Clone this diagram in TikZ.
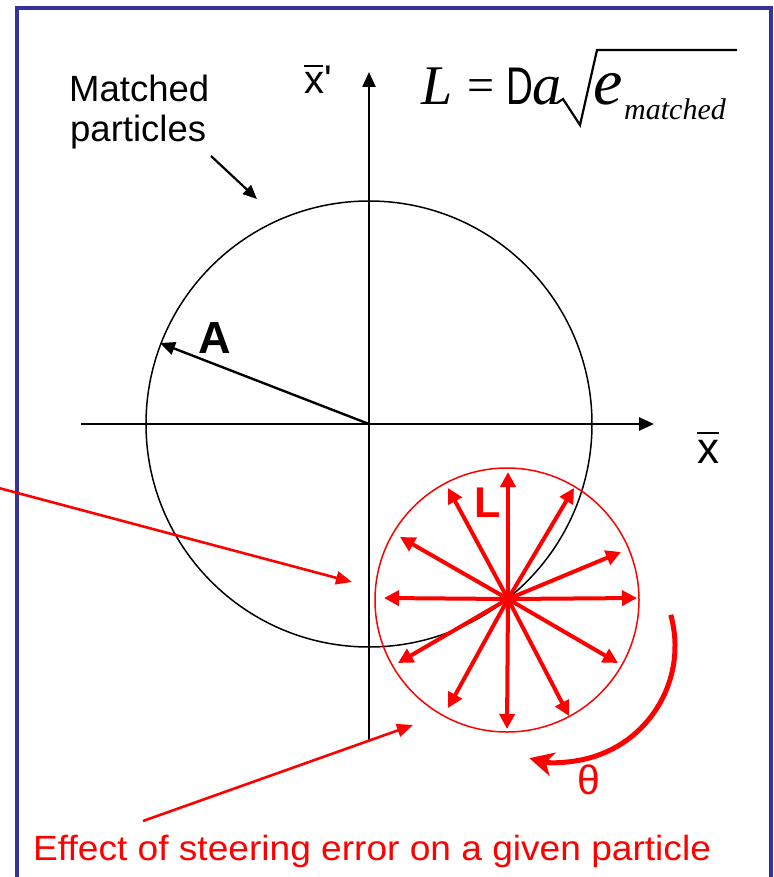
\documentclass[tikz,border=0pt]{standalone}
\usepackage{fontspec}
\setmainfont{Liberation Sans}
\newfontfamily\serifface{Liberation Serif}
\usetikzlibrary{arrows.meta,calc}
\definecolor{frameblue}{RGB}{51,51,153}
\definecolor{pred}{RGB}{255,0,0}
\begin{document}
\begin{tikzpicture}[x=1pt,y=-1pt,
  txt/.style={inner sep=0pt, anchor=base west},
  blk/.style={-{Triangle[length=15pt,width=13pt]}, line width=2.4pt},
  thinblk/.style={-{Triangle[length=14pt,width=12pt]}, line width=2.2pt},
  redarr/.style={-{Triangle[length=15pt,width=15pt]}, line width=4pt, pred},
  pointer/.style={-{Triangle[length=16pt,width=13pt]}, line width=2.6pt, pred},
]
\useasboundingbox (0,0) rectangle (773,877);
% frame
\coordinate (f1) at (17,930);
\coordinate (f2) at (17,8);
\coordinate (f3) at (771,8);
\coordinate (f4) at (771,930);
\draw[frameblue, line width=3.6pt] (f1) -- (f2) -- (f3) -- (f4);

% matched circle and axes
\coordinate (O) at (369,424);
\draw[line width=1.5pt] (O) circle[radius=223pt];
\coordinate (xl) at (81,424);
\coordinate (xr) at (654,424);
\coordinate (yb) at (369,740);
\coordinate (yt) at (369,72);
\draw[blk] (xl) -- (xr);
\draw[blk] (yb) -- (yt);
\coordinate (Atip) at (160,343);
\draw[blk] (O) -- (Atip);
\node[txt, font=\fontsize{45}{45}\selectfont\bfseries] (A) at (198,353) {A};

% axis labels
\node[txt, font=\fontsize{44}{44}\selectfont] (xlab) at (697,463) {x};
\coordinate (xb1) at (697,433);
\coordinate (xb2) at (719,433);
\draw[line width=2pt] (xb1) -- (xb2);
\node[txt, font=\fontsize{40}{40}\selectfont] (xplab) at (304,94) {x\textquotesingle};
\coordinate (xpb1) at (304,66);
\coordinate (xpb2) at (323,66);
\draw[line width=2pt] (xpb1) -- (xpb2);

% matched particles label
\node[txt, font=\fontsize{36.5}{36.5}\selectfont] (m1) at (69,102) {Matched};
\node[txt, font=\fontsize{36.5}{36.5}\selectfont] (m2) at (70,142) {particles};
\coordinate (ms) at (211,156);
\coordinate (mt) at (257,199);
\draw[thinblk] (ms) -- (mt);

% formula
\node[txt, font=\fontsize{56}{56}\selectfont\serifface\itshape] (fL) at (421,105) {L};
\node[txt, font=\fontsize{48}{48}\selectfont\serifface] (feq) at (467,102) {=};
\node[txt, font=\fontsize{53}{53}\selectfont, xscale=0.7] (fD) at (506,105) {D};
\node[txt, font=\fontsize{58}{58}\selectfont\serifface\itshape] (fa) at (532,105) {a};
\node[txt, font=\fontsize{66}{66}\selectfont\serifface\itshape] (fe) at (593,105) {e};
\node[txt, font=\fontsize{30}{30}\selectfont\serifface\itshape] (fm) at (624,120) {matched};
\coordinate (r1) at (557,103);
\coordinate (r2) at (563,99);
\coordinate (r3) at (580,125);
\coordinate (r4) at (597,50);
\coordinate (r5) at (737,50);
\draw[line width=2.2pt, line join=miter] (r1) -- (r2) -- (r3) -- (r4) -- (r5);

% red circle with arrows
\coordinate (C) at (507,600);
\draw[pred, line width=1.5pt] (C) circle[radius=132pt];
\coordinate (c0) at (508,599);
\foreach \px/\py [count=\i] in {508/472,448/488,574/488,400/537,621/552,384/598,637/598,398/663,618/663,448/708,507/729,569/716}{
  \coordinate (t\i) at (\px,\py);
  \draw[redarr] (c0) -- (t\i);
}
\node[txt, pred, font=\fontsize{43}{43}\selectfont\bfseries] (Llab) at (474,517) {L};

% theta arc
\coordinate (T) at (559,646);
\coordinate (Ts) at ($(T)+(15.6:116pt)$);
\draw[pred, line width=5pt, -{Stealth[length=24pt,width=24pt,inset=7pt]}] (Ts) arc[start angle=15.6, end angle=-104.8, radius=116pt];
\node[txt, pred, font=\fontsize{41}{41}\selectfont] (th) at (577,794) {θ};

% pointers
\coordinate (p1s) at (-5,487);
\coordinate (p1t) at (352,582);
\draw[pointer] (p1s) -- (p1t);
\coordinate (p2s) at (143,821);
\coordinate (p2t) at (413,725);
\draw[pointer] (p2s) -- (p2t);
\node[txt, pred, font=\fontsize{35}{35}\selectfont, xscale=1.06] (eff) at (33,860) {Effect of steering error on a given particle};
\end{tikzpicture}
\end{document}
